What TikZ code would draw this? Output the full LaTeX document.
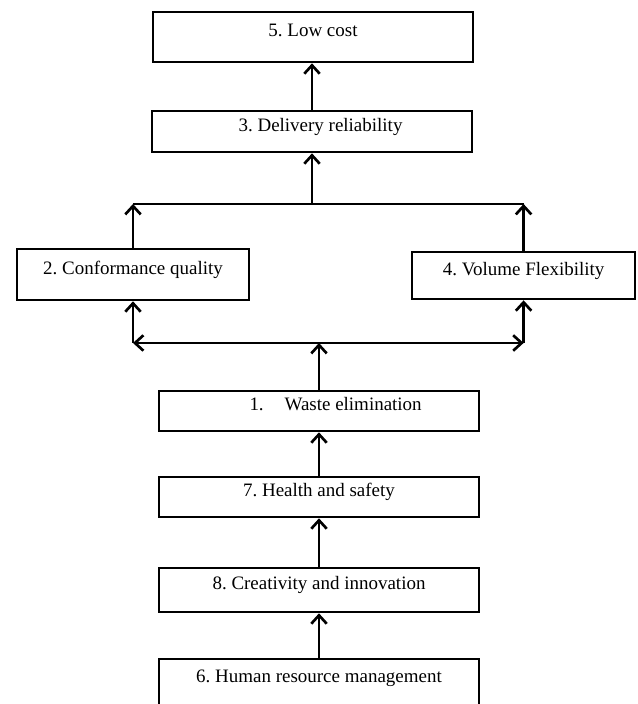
\documentclass[tikz,border=0pt]{standalone}
\usepackage{fontspec}
\setmainfont{Liberation Serif}
\usetikzlibrary{positioning, arrows.meta}
\frenchspacing

\tikzset{
  box/.style={draw, line width=1.9pt, rectangle, minimum width=8cm,
    text height=1ex, text depth=1ex, font=\fontsize{13.5}{16}\selectfont},
}

\begin{document}
\begin{tikzpicture}[>={Straight Barb[length=6pt,width=11pt]}, line width=1.9pt]
\useasboundingbox (0,0) rectangle (15.925,17.6);
\node[box, minimum height=1.25cm] (low) at (7.825,16.675) {5. Low cost};
\node[box, minimum height=1.025cm] (deliv) at (7.8,14.3125) {\hspace*{0.9em}3. Delivery reliability};
\node[box, minimum width=5.8cm, minimum height=1.275cm] (conf) at (3.325,10.7375) {2. Conformance quality};
\node[box, minimum width=5.575cm, minimum height=1.175cm] (vol) at (13.09,10.7125) {4. Volume Flexibility};
\node[box, minimum height=1cm] (waste) at (7.975,7.325) {\hspace*{1.75em}1.\hspace{1.1em}Waste elimination};
\node[box, minimum height=1cm] (health) at (7.975,5.175) {7. Health and safety};
\node[box, minimum height=1.1cm] (creat) at (7.975,2.85) {8. Creativity and innovation};
\node[box, minimum height=1.2cm] (hrm) at (7.975,0.525) {6. Human resource management};
\coordinate (tl) at (conf.north |- 0,12.5);
\coordinate (tr) at (vol.north |- 0,12.5);
\coordinate (bl) at (conf.south |- 0,9.025);
\coordinate (br) at (vol.south |- 0,9.025);
\draw[->] (deliv.north) -- (deliv.north |- low.south);
\draw (tl) -- (tr);
\draw[->] (deliv.south |- tl) -- (deliv.south);
\draw[->] (conf.north) -- (tl);
\draw[->] (vol.north) -- (tr);
\draw[<->] (bl) -- (br);
\draw[->] (bl) -- (conf.south);
\draw[->] (br) -- (vol.south);
\draw[->] (waste.north) -- (waste.north |- bl);
\draw[->] (health.north) -- (waste.south);
\draw[->] (creat.north) -- (health.south);
\draw[->] (hrm.north) -- (creat.south);
\end{tikzpicture}
\end{document}
